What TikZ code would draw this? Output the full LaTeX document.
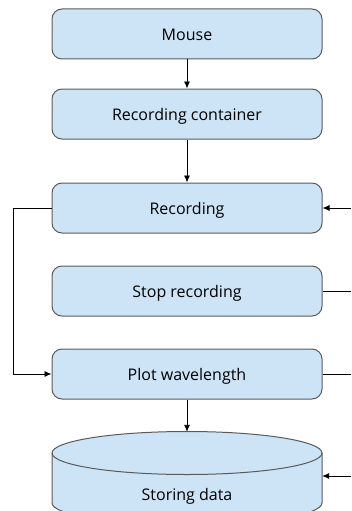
\documentclass[tikz,border=0pt]{standalone}
\usepackage{fontspec}
\setmainfont{Open Sans}
\usetikzlibrary{arrows.meta}
\definecolor{boxfill}{HTML}{CDE4F7}
\definecolor{boxline}{HTML}{5A5A5A}
\begin{document}
\begin{tikzpicture}[x=1pt,y=-1pt,
    label/.style={font=\fontsize{16}{19}\selectfont,text height=13pt,text depth=0pt},
    stage/.style={label,draw=boxline,line width=1pt,fill=boxfill,rectangle,rounded corners=10pt,minimum width=270pt,minimum height=50pt},
    link/.style={line width=0.9pt,-{Latex[length=7pt,width=6pt]}},
    plain/.style={line width=0.9pt}]
    \useasboundingbox (0,0) rectangle (351,511);
    %% Steps
    \node[stage] (mouse) at (187,34) {Mouse};
    \node[stage] (cont) at (187,114) {Recording container};
    \node[stage] (rec) at (187,208) {Recording};
    \node[stage] (stop) at (187,291) {Stop recording};
    \node[stage] (plot) at (187,374) {Plot wavelength};
    %% Storage drum (y axis points down, so the arcs run the other way)
    \draw[draw=boxline,line width=1pt,fill=boxfill] (52,453) -- (52,503) arc[start angle=180,end angle=0,x radius=135,y radius=21.5] -- (322,453) arc[start angle=0,end angle=-180,x radius=135,y radius=21.5] -- cycle;
    \draw[draw=boxline,line width=1pt] (52,453) arc[start angle=180,end angle=0,x radius=135,y radius=21.5];
    \node[minimum width=270pt,minimum height=92pt,inner sep=0pt] (store) at (187,478) {};
    \node[label] (storetext) at (187,494) {Storing data};
    %% Free ends on the right
    \coordinate (recin) at (351,208);
    \coordinate (stopout) at (351,291);
    \coordinate (plotout) at (351,374);
    \coordinate (storein) at (351,476);
    %% Arrows
    \draw[link] (mouse) -- (cont);
    \draw[link] (cont) -- (rec);
    \draw[link] (plot) -- (store.north);
    \draw[link] (rec.west) -- ++(-38,0) |- (plot.west);
    \draw[link] (recin) -- (rec.east);
    \draw[plain] (stop.east) -- (stopout);
    \draw[plain] (plot.east) -- (plotout);
    \draw[link] (storein) -- (store.east |- storein);
\end{tikzpicture}
\end{document}
